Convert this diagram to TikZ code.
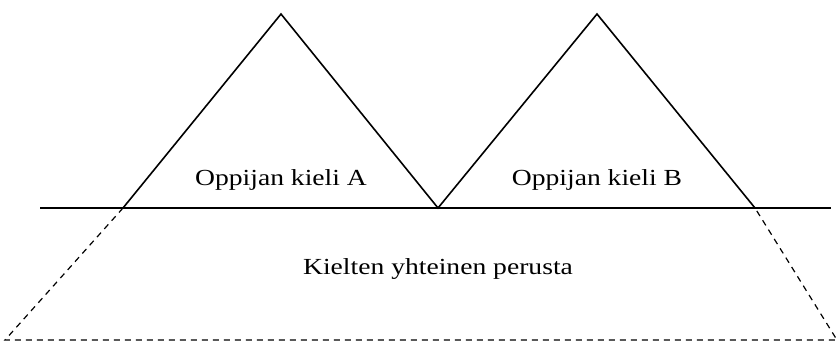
\documentclass[tikz,border=0pt]{standalone}
\usepackage{fontspec}
\setmainfont{Liberation Serif}[FakeStretch=1.2]
\begin{document}
\begin{tikzpicture}[x=1pt,y=-1pt,
  solidline/.style={line width=1.6pt,line join=miter},
  dashline/.style={line width=1.2pt,dash pattern=on 6pt off 5pt},
  label/.style={font=\fontsize{23}{27}\selectfont,inner sep=0pt}]
\useasboundingbox (0,0) rectangle (839,346);
% corner points
\coordinate (apexA) at (281,14);
\coordinate (apexB) at (597,14);
\coordinate (baseL) at (123,208);
\coordinate (baseM) at (438,208);
\coordinate (baseR) at (755,208);
\coordinate (lineL) at (40,208);
\coordinate (lineR) at (831,208);
\coordinate (botL) at (5,340);
\coordinate (botR) at (837,340);
% ground line and the two peaks
\draw[solidline] (lineL) -- (lineR);
\draw[solidline] (baseL) -- (apexA) -- (baseM) -- (apexB) -- (baseR);
% hidden common base
\draw[dashline] (baseL) -- (botL) -- (botR) -- (baseR);
% labels
\node[label] (langA) at (281,180) {Oppijan kieli A};
\node[label] (langB) at (597,180) {Oppijan kieli B};
\node[label] (common) at (438,269) {Kielten yhteinen perusta};
\end{tikzpicture}
\end{document}
